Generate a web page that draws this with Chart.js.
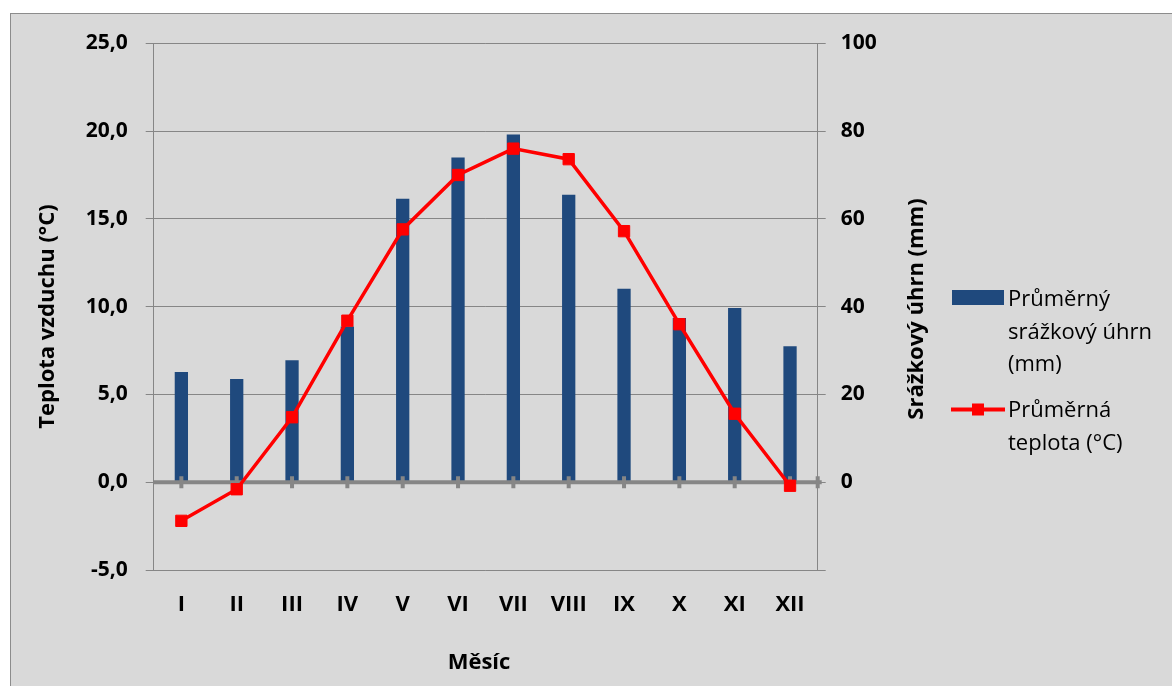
<!DOCTYPE html>
<html>
<head>
    <title>Klimadiagram</title>
    <script src="https://cdn.jsdelivr.net/npm/chart.js"></script>
    <style>
        html, body { margin: 0; padding: 0; background: #ffffff; overflow: hidden; }
        canvas { display: block; }
    </style>
</head>
<body>
    <canvas id="figure" width="1172" height="686"></canvas>

    <script>
        // mesice a hodnoty
        var mesice = ['I', 'II', 'III', 'IV', 'V', 'VI', 'VII', 'VIII', 'IX', 'X', 'XI', 'XII'];
        var srazky = [25.1, 23.5, 27.8, 35.5, 64.6, 74.0, 79.2, 65.5, 44.1, 37.4, 39.7, 31.0];
        var teploty = [-2.2, -0.4, 3.7, 9.2, 14.4, 17.5, 19.0, 18.4, 14.3, 9.0, 3.9, -0.2];

        var popisSrazky = ['Průměrný', 'srážkový úhrn', '(mm)'];
        var popisTeploty = ['Průměrná', 'teplota (°C)'];
        var titulekX = 'Měsíc';
        var titulekY = 'Teplota vzduchu (°C)';
        var titulekY1 = 'Srážkový úhrn (mm)';

        var seda = '#868686';
        var modra = '#1F497D';
        var cervena = '#FF0000';
        var pismo = '"Open Sans", "DejaVu Sans", sans-serif';

        // pozadi grafu s ramem
        var pozadi = {
            id: 'pozadi',
            beforeDraw: function(chart) {
                var ctx = chart.ctx;
                ctx.save();
                ctx.fillStyle = '#ffffff';
                ctx.fillRect(0, 0, chart.width, chart.height);
                ctx.fillStyle = '#D9D9D9';
                ctx.fillRect(11, 14, chart.width - 11, chart.height - 14);
                ctx.strokeStyle = '#8C8C8C';
                ctx.lineWidth = 1;
                ctx.strokeRect(10.5, 13.5, chart.width, chart.height);
                ctx.restore();
            }
        };

        // silna osa na nule se znackami mesicu (nad sloupci, pod carou)
        var nulovaOsa = {
            id: 'nulovaOsa',
            afterDatasetDraw: function(chart, args) {
                if (args.index !== 0) return;
                var ctx = chart.ctx;
                var area = chart.chartArea;
                var sx = chart.scales.x;
                var y0 = chart.scales.y.getPixelForValue(0);
                ctx.save();
                ctx.strokeStyle = seda;
                ctx.lineWidth = 4;
                ctx.beginPath();
                ctx.moveTo(area.left, y0);
                ctx.lineTo(area.right + 4, y0);
                ctx.stroke();
                ctx.lineWidth = 4;
                ctx.beginPath();
                for (var i = 0; i < mesice.length; i++) {
                    var px = sx.getPixelForValue(i);
                    ctx.moveTo(px, y0 - 6);
                    ctx.lineTo(px, y0 + 6);
                }
                ctx.moveTo(area.right, y0 - 6);
                ctx.lineTo(area.right, y0 + 6);
                ctx.stroke();
                ctx.restore();
            }
        };

        // nazvy os a legenda vpravo
        var popisky = {
            id: 'popisky',
            afterDraw: function(chart) {
                var ctx = chart.ctx;
                ctx.save();
                ctx.fillStyle = '#000000';
                ctx.font = 'bold 22px ' + pismo;
                ctx.textBaseline = 'alphabetic';
                ctx.textAlign = 'center';
                ctx.fillText(titulekX, 479, 669);

                ctx.save();
                ctx.translate(53.5, 316.5);
                ctx.rotate(-Math.PI / 2);
                ctx.fillText(titulekY, 0, 0);
                ctx.restore();

                ctx.save();
                ctx.translate(922.5, 309);
                ctx.rotate(-Math.PI / 2);
                ctx.fillText(titulekY1, 0, 0);
                ctx.restore();

                var ds = chart.data.datasets;
                ctx.fillStyle = ds[0].backgroundColor;
                ctx.fillRect(952, 290, 52, 15);

                ctx.strokeStyle = ds[1].borderColor;
                ctx.lineWidth = 4;
                ctx.beginPath();
                ctx.moveTo(951, 409.5);
                ctx.lineTo(1005, 409.5);
                ctx.stroke();
                ctx.fillStyle = ds[1].pointBackgroundColor;
                ctx.fillRect(972, 403.5, 12, 12);

                ctx.fillStyle = '#000000';
                ctx.font = '22px ' + pismo;
                ctx.textAlign = 'left';
                popisSrazky.forEach(function(t, i) {
                    ctx.fillText(t, 1008, 306 + i * 32.7);
                });
                popisTeploty.forEach(function(t, i) {
                    ctx.fillText(t, 1008, 417 + i * 32.7);
                });
                ctx.restore();
            }
        };

        function kresli() {
            var ctx = document.getElementById('figure').getContext('2d');

            new Chart(ctx, {
                type: 'bar',
                data: {
                    labels: mesice,
                    datasets: [{
                        type: 'bar',
                        label: popisSrazky.join(' '),
                        data: srazky,
                        backgroundColor: modra,
                        borderWidth: 0,
                        xAxisID: 'x',
                        yAxisID: 'y1',
                        categoryPercentage: 1,
                        barPercentage: 0.24,
                        order: 2
                    }, {
                        type: 'line',
                        label: popisTeploty.join(' '),
                        data: teploty,
                        borderColor: cervena,
                        borderWidth: 3.5,
                        pointStyle: 'rect',
                        pointRadius: 8,
                        pointBorderWidth: 1,
                        pointBackgroundColor: cervena,
                        pointBorderColor: cervena,
                        tension: 0,
                        xAxisID: 'x',
                        yAxisID: 'y',
                        order: 1
                    }]
                },
                options: {
                    responsive: false,
                    animation: false,
                    layout: { padding: { top: 43.3, left: 0, right: 0, bottom: 0 } },
                    plugins: {
                        legend: { display: false },
                        tooltip: { enabled: false }
                    },
                    scales: {
                        // kategorie pro sloupce a caru
                        x: {
                            type: 'category',
                            display: false,
                            offset: true
                        },
                        // popisky mesicu dole
                        x2: {
                            type: 'category',
                            position: 'bottom',
                            offset: true,
                            border: { display: false },
                            grid: { display: false, drawTicks: false },
                            ticks: {
                                color: '#000000',
                                padding: 22,
                                font: { family: pismo, size: 22, weight: 'bold' }
                            },
                            afterFit: function(s) { s.height = 116; }
                        },
                        y: {
                            position: 'left',
                            min: -5,
                            max: 25,
                            ticks: {
                                stepSize: 5,
                                color: '#000000',
                                padding: 18,
                                font: { family: pismo, size: 21, weight: 'bold' },
                                callback: function(v) { return v.toFixed(1).replace('.', ','); }
                            },
                            border: { display: true, color: seda, width: 1 },
                            grid: { color: seda, lineWidth: 1, tickLength: 8, drawTicks: true },
                            afterFit: function(s) { s.width = 153.7; }
                        },
                        y1: {
                            position: 'right',
                            min: -20,
                            max: 100,
                            ticks: {
                                stepSize: 20,
                                color: '#000000',
                                padding: 15,
                                font: { family: pismo, size: 21, weight: 'bold' },
                                callback: function(v) { return v < 0 ? '' : v; }
                            },
                            border: { display: true, color: seda, width: 1 },
                            grid: { color: seda, lineWidth: 1, tickLength: 8, drawOnChartArea: false },
                            afterFit: function(s) { s.width = 1172 - 817.7; }
                        }
                    }
                },
                plugins: [pozadi, nulovaOsa, popisky]
            });
        }

        if (document.fonts && document.fonts.load) {
            Promise.all([
                document.fonts.load('bold 22px "Open Sans"'),
                document.fonts.load('22px "Open Sans"')
            ]).then(kresli, kresli);
        } else {
            kresli();
        }
    </script>
</body>
</html>
